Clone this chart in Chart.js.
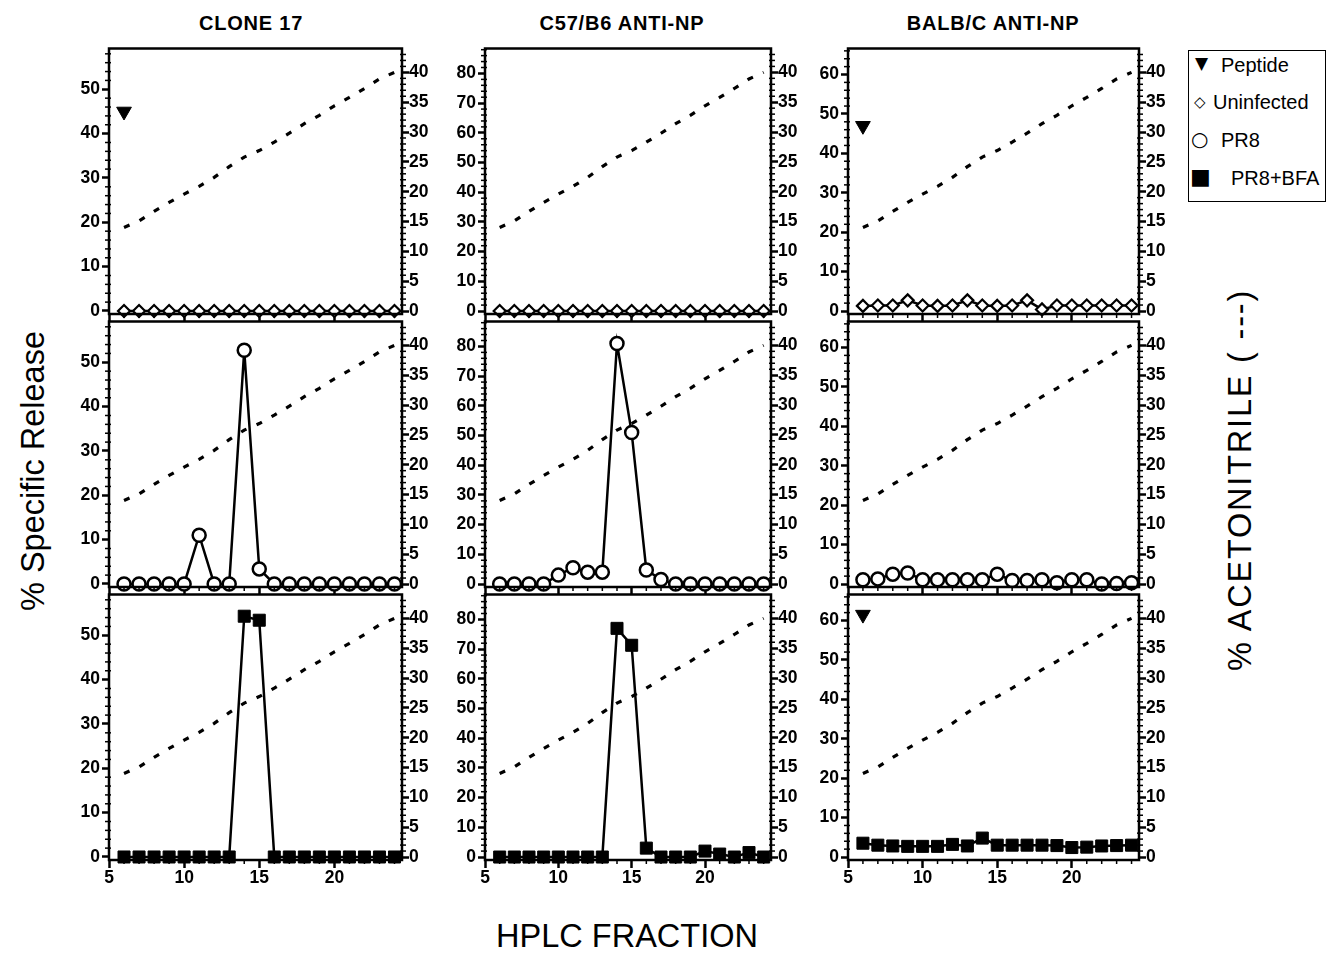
<!DOCTYPE html>
<html>
<head>
<meta charset="utf-8">
<script src="https://cdn.jsdelivr.net/npm/chart.js@4.4.1/dist/chart.umd.min.js"></script>
<style>
  html,body{margin:0;padding:0;background:#fff;}
  #wrap{position:relative;width:1336px;height:954px;background:#fff;overflow:hidden;font-family:"Liberation Sans",Arial,sans-serif;color:#000;}
  canvas{position:absolute;}
  .t{position:absolute;white-space:nowrap;}
  .title{font-size:20px;font-weight:bold;letter-spacing:0.8px;transform:translateX(-50%);top:12px;}
  .big{font-size:32.5px;}
  #legend{position:absolute;left:1188px;top:50px;width:138px;height:152px;border:1.5px solid #000;box-sizing:border-box;}
  .li{position:absolute;font-size:20px;white-space:nowrap;}
  .sym{position:absolute;font-family:"DejaVu Sans",sans-serif;}
</style>
</head>
<body>
<div id="wrap">
  <div class="t title" style="left:251px;">CLONE 17</div>
  <div class="t title" style="left:622px;">C57/B6 ANTI-NP</div>
  <div class="t title" style="left:993px;">BALB/C ANTI-NP</div>
  <div class="t big" style="left:33px;top:471px;transform:translate(-50%,-50%) rotate(-90deg);">% Specific Release</div>
  <div class="t big" style="left:1240px;top:480px;letter-spacing:1.8px;transform:translate(-50%,-50%) rotate(-90deg);">% ACETONITRILE ( ---)</div>
  <div class="t big" style="left:627px;top:918px;transform:translateX(-50%);">HPLC FRACTION</div>
  <div id="legend">
    <span class="sym" style="left:6px;top:2px;font-size:17px;">▼</span><span class="li" style="left:32px;top:3px;">Peptide</span>
    <span class="sym" style="left:5px;top:42px;font-size:15px;">◇</span><span class="li" style="left:24px;top:40px;">Uninfected</span>
    <span class="sym" style="left:2px;top:76px;font-size:20px;">○</span><span class="li" style="left:32px;top:78px;">PR8</span>
    <span class="sym" style="left:1px;top:113px;font-size:22px;">■</span><span class="li" style="left:42px;top:116px;">PR8+BFA</span>
  </div>
</div>
<script>
// ---------------- DATA ----------------
const fractions = [6,7,8,9,10,11,12,13,14,15,16,17,18,19,20,21,22,23,24];
const acetonitrile = [14.0,15.1,16.7,18.2,19.6,20.9,22.4,24.2,25.8,26.9,28.3,29.8,31.4,32.8,34.4,35.8,37.3,38.9,40.0];
const columnTitles = ["CLONE 17","C57/B6 ANTI-NP","BALB/C ANTI-NP"];
const xTicks = [5,10,15,20];
const acetonitrileTicks = [0,5,10,15,20,25,30,35,40];
const clone17ReleaseTicks = [0,10,20,30,40,50];
const c57ReleaseTicks = [0,10,20,30,40,50,60,70,80];
const balbcReleaseTicks = [0,10,20,30,40,50,60];

const peptideFraction = [6];
const clone17PeptideTop = [45];
const balbcPeptideTop = [47];
const balbcPeptideBottom = [61.5];

const clone17Uninfected = [0,0,0,0,0,0,0,0,0,0,0,0,0,0,0,0,0,0,0];
const c57Uninfected     = [0,0,0,0,0,0,0,0,0,0,0,0,0,0,0,0,0,0,0];
const balbcUninfected   = [1.3,1.4,1.4,2.7,1.4,1.3,1.4,2.7,1.4,1.3,1.4,2.7,0.4,1.4,1.4,1.4,1.4,1.4,1.4];

const clone17PR8 = [0,0,0,0,0,11,0,0,52.7,3.4,0,0,0,0,0,0,0,0,0];
const c57PR8     = [0,0,0,0,3,5.5,4,4,81,51,4.7,1.5,0,0,0,0,0,0,0];
const balbcPR8   = [1.1,1.3,2.5,2.8,1.1,1.1,1.1,1.1,1.1,2.5,0.9,0.9,1.1,0.3,1.1,1.1,0,0.1,0.3];

const clone17BFA = [0,0,0,0,0,0,0,0,54.3,53.4,0,0,0,0,0,0,0,0,0];
const c57BFA     = [0,0,0,0,0,0,0,0,77,71.3,3,0,0,0,2,1,0,1.5,0];
const balbcBFA   = [3.5,3,2.8,2.7,2.7,2.7,3.2,2.8,4.8,3,3,3,3,2.9,2.4,2.5,2.8,2.9,3];

// ---------------- LAYOUT ----------------
const cols = [
  {L:109, R:402, yMin:-0.68, yMax:59.2, ticks:clone17ReleaseTicks, minor:2},
  {L:485, R:771, yMin:-1.0,  yMax:88.4, ticks:c57ReleaseTicks, minor:2},
  {L:848, R:1139,yMin:-0.76, yMax:66.6, ticks:balbcReleaseTicks, minor:2}
];
const rowTops = [48, 321, 594];
const PLOT_H = 266, PAD_T = 12, AX_W = 60, AX_H = 40;

const toXY = (xs, ys) => xs.map((x,i)=>({x:x, y:ys[i]}));

function acetDataset(){
  return {type:'line', data:toXY(fractions, acetonitrile), yAxisID:'y2', showLine:true,
    borderColor:'#000', borderWidth:3.2, borderDash:[6,11], borderCapStyle:'butt',
    pointRadius:0, tension:0, clip:false};
}
function peptideDataset(vals){
  return {data:toXY(peptideFraction, vals), yAxisID:'y', showLine:false, pointStyle:'triangle',
    pointRotation:180, pointRadius:8.5, backgroundColor:'#000', borderColor:'#000', pointBorderWidth:1, clip:false};
}
function seriesDataset(vals, kind){
  const base = {data:toXY(fractions, vals), yAxisID:'y', borderColor:'#000', borderWidth:2.5, clip:false};
  if(kind==='uninf') return Object.assign(base,{pointStyle:'rectRot', pointRadius:6, pointBackgroundColor:'#fff', pointBorderWidth:2.2});
  if(kind==='pr8') return Object.assign(base,{pointStyle:'circle', pointRadius:6.5, pointBackgroundColor:'#fff', pointBorderWidth:2.5});
  return Object.assign(base,{pointStyle:'rect', pointRadius:8.5, pointBackgroundColor:'#000', pointBorderWidth:1});
}

const frameMinor = {
  id:'frameMinor',
  afterDraw(chart){
    const {ctx, chartArea:a, scales} = chart;
    ctx.save();
    ctx.strokeStyle='#000';
    ctx.lineWidth=1.5;
    const xs = scales.x;
    for(let v=6; v<=24; v++){ if(v%5===0) continue;
      const p = xs.getPixelForValue(v);
      ctx.beginPath(); ctx.moveTo(p, a.bottom); ctx.lineTo(p, a.bottom+4); ctx.stroke(); }
    const ys = scales.y, st = chart.$minorStep;
    for(let v=st; v<ys.max; v+=st){ if(Math.abs(v%10)<1e-6) continue;
      const p = ys.getPixelForValue(v);
      ctx.beginPath(); ctx.moveTo(a.left-4, p); ctx.lineTo(a.left+2, p); ctx.stroke(); }
    const y2 = scales.y2;
    for(let v=1; v<y2.max; v++){ if(v%5===0) continue;
      const p = y2.getPixelForValue(v);
      ctx.beginPath(); ctx.moveTo(a.right-2, p); ctx.lineTo(a.right+4, p); ctx.stroke(); }
    ctx.lineWidth=2.5;
    ctx.strokeRect(a.left, a.top, a.right-a.left, a.bottom-a.top);
    ctx.restore();
  }
};

const tickFont = {family:'"Liberation Sans", Arial, sans-serif', size:17.5, weight:'bold'};
const wrap = document.getElementById('wrap');

function makePanel(ci, ri, datasets){
  const c = cols[ci], T = rowTops[ri];
  const cv = document.createElement('canvas');
  const w = (c.R - c.L) + 2*AX_W, h = PAD_T + PLOT_H + AX_H;
  cv.width = w; cv.height = h;
  cv.style.left = (c.L - AX_W)+'px'; cv.style.top = (T - PAD_T)+'px';
  cv.style.width = w+'px'; cv.style.height = h+'px';
  wrap.appendChild(cv);
  const showX = ri===2;
  const chart = new Chart(cv, {
    type:'line',
    data:{datasets:datasets},
    options:{
      responsive:false, animation:false, devicePixelRatio:1,
      layout:{padding:{top:PAD_T,left:0,right:0,bottom:0}},
      plugins:{legend:{display:false}, tooltip:{enabled:false}},
      scales:{
        x:{type:'linear', min:5, max:24.5,
          afterBuildTicks:s=>{s.ticks = xTicks.map(v=>({value:v}));},
          afterFit:s=>{s.height = AX_H;},
          border:{display:false},
          grid:{drawOnChartArea:false, drawTicks:true, tickLength:8, tickWidth:2.5, tickColor:'#000'},
          ticks:{color:'#000', font:tickFont, padding:0, maxRotation:0, autoSkip:false,
            callback:v=> showX ? String(v) : ''}},
        y:{type:'linear', position:'left', min:c.yMin, max:c.yMax,
          afterBuildTicks:s=>{s.ticks = c.ticks.map(v=>({value:v}));},
          afterFit:s=>{s.width = AX_W;},
          border:{display:false},
          grid:{drawOnChartArea:false, drawTicks:true, tickLength:7, tickWidth:2.5, tickColor:'#000'},
          ticks:{color:'#000', font:tickFont, padding:2, autoSkip:false, callback:v=>String(v)}},
        y2:{type:'linear', position:'right', min:-0.5, max:44.0,
          afterBuildTicks:s=>{s.ticks = acetonitrileTicks.map(v=>({value:v}));},
          afterFit:s=>{s.width = AX_W;},
          border:{display:false},
          grid:{drawOnChartArea:false, drawTicks:true, tickLength:7, tickWidth:2.5, tickColor:'#000'},
          ticks:{color:'#000', font:tickFont, padding:0, autoSkip:false, callback:v=>String(v)}}
      }
    },
    plugins:[frameMinor]
  });
  chart.$minorStep = c.minor;
  chart.draw();
}

makePanel(0,0,[acetDataset(), seriesDataset(clone17Uninfected,'uninf'), peptideDataset(clone17PeptideTop)]);
makePanel(1,0,[acetDataset(), seriesDataset(c57Uninfected,'uninf')]);
makePanel(2,0,[acetDataset(), seriesDataset(balbcUninfected,'uninf'), peptideDataset(balbcPeptideTop)]);
makePanel(0,1,[acetDataset(), seriesDataset(clone17PR8,'pr8')]);
makePanel(1,1,[acetDataset(), seriesDataset(c57PR8,'pr8')]);
makePanel(2,1,[acetDataset(), seriesDataset(balbcPR8,'pr8')]);
makePanel(0,2,[acetDataset(), seriesDataset(clone17BFA,'bfa')]);
makePanel(1,2,[acetDataset(), seriesDataset(c57BFA,'bfa')]);
makePanel(2,2,[acetDataset(), seriesDataset(balbcBFA,'bfa'), peptideDataset(balbcPeptideBottom)]);
</script>
</body>
</html>
